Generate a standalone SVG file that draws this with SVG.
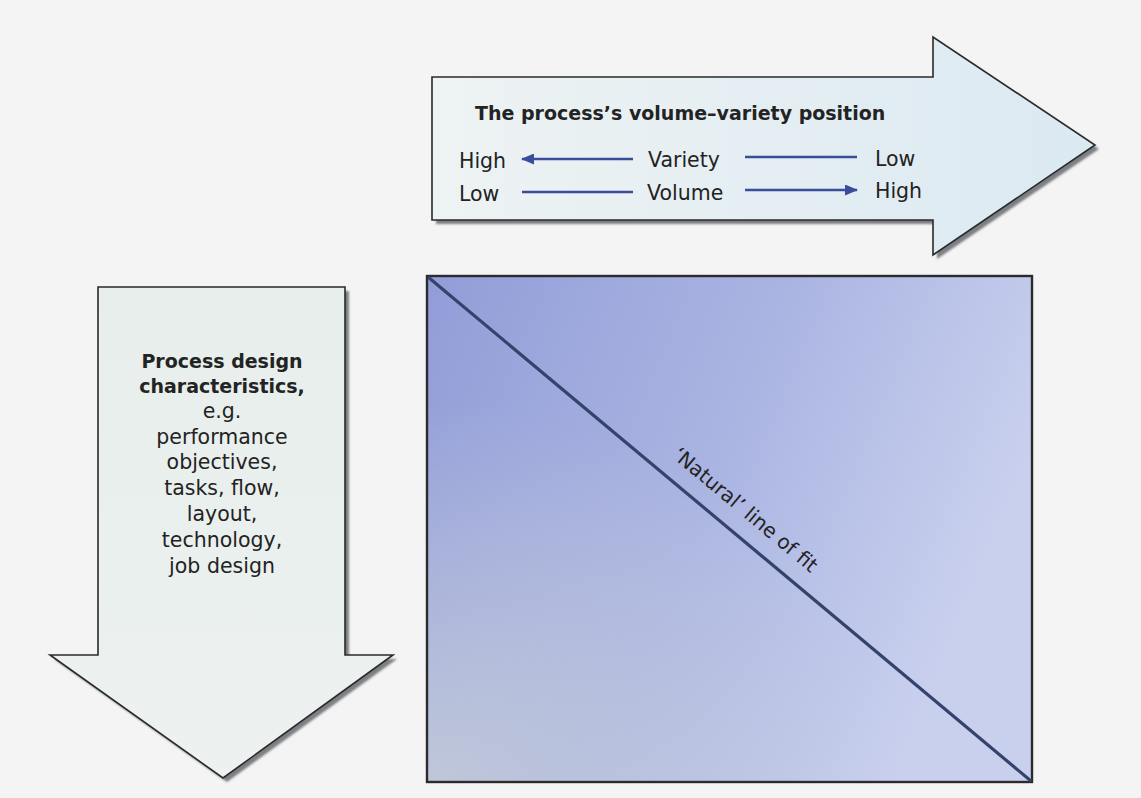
<svg xmlns="http://www.w3.org/2000/svg" width="1141" height="798" viewBox="0 0 1141 798">
  <defs>
    <style>
      .txt { font-family: "DejaVu Sans", "Liberation Sans", sans-serif; fill: #232323; }
      .bold { font-weight: bold; }
      .outline { stroke: #2a2a2a; stroke-width: 1.6; stroke-linejoin: miter; }
      .shadow { fill: #7d7f84; }
      .scale { stroke: #3a4c9c; stroke-width: 2.6; fill: none; }
    </style>
    <linearGradient id="rightFill" x1="0" y1="0" x2="1" y2="0">
      <stop offset="0" stop-color="#eef3f3"/>
      <stop offset="1" stop-color="#dbe9f2"/>
    </linearGradient>
    <linearGradient id="downFill" x1="0" y1="0" x2="0" y2="1">
      <stop offset="0" stop-color="#e7eeec"/>
      <stop offset="1" stop-color="#edf2f0"/>
    </linearGradient>
    <linearGradient id="gridBase" x1="0" y1="0" x2="1" y2="0.35">
      <stop offset="0" stop-color="#929dd8"/>
      <stop offset="0.55" stop-color="#abb5e2"/>
      <stop offset="1" stop-color="#c9d0ee"/>
    </linearGradient>
    <radialGradient id="gridHaze" cx="0" cy="1" r="0.75">
      <stop offset="0" stop-color="#c9d0d8" stop-opacity="0.75"/>
      <stop offset="1" stop-color="#c9d0d8" stop-opacity="0"/>
    </radialGradient>
    <filter id="soft" x="-5%" y="-5%" width="110%" height="110%">
      <feGaussianBlur stdDeviation="1.2"/>
    </filter>
    <marker id="head" viewBox="0 0 13 11" refX="12" refY="5.5" markerWidth="13" markerHeight="11" markerUnits="userSpaceOnUse" orient="auto">
      <path d="M0,0 L13,5.5 L0,11 Z" fill="#3a4c9c"/>
    </marker>
  </defs>

  <!-- page -->
  <rect x="0" y="0" width="1141" height="798" fill="#f3f4f3"/>

  <!-- volume–variety arrow (horizontal) -->
  <g id="volume-variety-arrow">
    <path class="shadow" filter="url(#soft)" d="M436,81 L937,81 L937,41 L1099,149 L937,259 L937,224 L436,224 Z"/>
    <path class="outline" fill="url(#rightFill)" d="M432,77 L933,77 L933,37 L1095,145 L933,255 L933,220 L432,220 Z"/>
    <text class="txt bold" x="475" y="120" font-size="19">The process’s volume–variety position</text>
    <text class="txt" x="459" y="168" font-size="20.5">High</text>
    <text class="txt" x="648" y="167" font-size="20.5">Variety</text>
    <text class="txt" x="875" y="166" font-size="20.5">Low</text>
    <text class="txt" x="459" y="201" font-size="20.5">Low</text>
    <text class="txt" x="647" y="200" font-size="20.5">Volume</text>
    <text class="txt" x="875" y="198" font-size="20.5">High</text>
  </g>

  <!-- process design arrow (vertical) -->
  <g id="process-design-arrow">
    <path class="shadow" filter="url(#soft)" d="M102,291 L349,291 L349,659 L397,659 L227,782 L54,659 L102,659 Z"/>
    <path class="outline" fill="url(#downFill)" d="M98,287 L345,287 L345,655 L393,655 L223,778 L50,655 L98,655 Z"/>
    <g text-anchor="middle">
      <text class="txt bold" x="222" y="368" font-size="19">Process design</text>
      <text class="txt bold" x="222" y="393" font-size="19">characteristics,</text>
      <text class="txt" x="222" y="418" font-size="20.5">e.g.</text>
      <text class="txt" x="222" y="444" font-size="20.5">performance</text>
      <text class="txt" x="222" y="469" font-size="20.5">objectives,</text>
      <text class="txt" x="222" y="495" font-size="20.5">tasks, flow,</text>
      <text class="txt" x="222" y="521" font-size="20.5">layout,</text>
      <text class="txt" x="222" y="547" font-size="20.5">technology,</text>
      <text class="txt" x="222" y="573" font-size="20.5">job design</text>
    </g>
  </g>

  <!-- matrix square with line of fit -->
  <g id="fit-matrix">
    <rect x="427" y="276" width="605" height="506" fill="url(#gridBase)"/>
    <rect x="427" y="276" width="605" height="506" fill="url(#gridHaze)"/>
    <rect x="427" y="276" width="605" height="506" fill="none" stroke="#2b2b2e" stroke-width="2.4"/>
    <line x1="428" y1="277" x2="1031" y2="781" stroke="#34436c" stroke-width="3.2"/>
    <text class="txt" font-size="20" text-anchor="middle" fill="#2a2d4a" transform="translate(741,515) rotate(39.9)">‘Natural’ line of fit</text>
  </g>

  <!-- scale connectors inside the horizontal arrow -->
  <g id="connectors">
    <line class="scale" x1="633" y1="159" x2="522" y2="159" marker-end="url(#head)"/>
    <line class="scale" x1="745" y1="157" x2="857" y2="157"/>
    <line class="scale" x1="522" y1="192" x2="633" y2="192"/>
    <line class="scale" x1="745" y1="190" x2="857" y2="190" marker-end="url(#head)"/>
  </g>
</svg>
